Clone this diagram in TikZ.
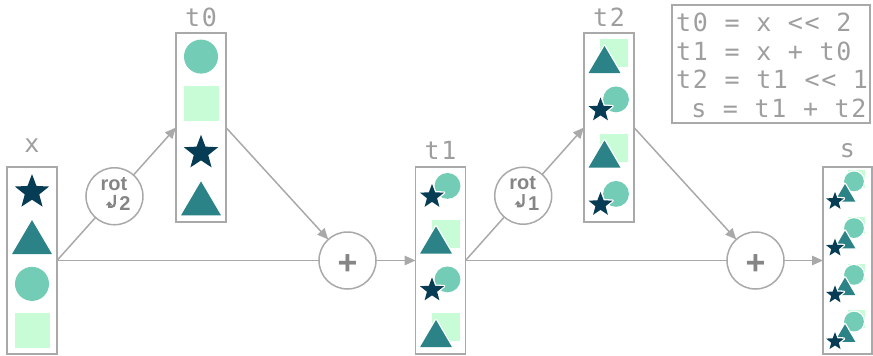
\documentclass[tikz,border=0pt]{standalone}
\usepackage{fontspec}
\usetikzlibrary{arrows.meta,calc}
\newfontfamily\codefont[LetterSpace=6.4]{DejaVu Sans Mono}
\newfontfamily\opfont{Liberation Sans}
\definecolor{inkStar}{HTML}{063D54}
\definecolor{inkTri}{HTML}{2B8388}
\definecolor{inkCirc}{HTML}{73CCB6}
\definecolor{inkSq}{HTML}{C8FCD6}
\definecolor{wire}{HTML}{A9A9A9}
\definecolor{labelgray}{HTML}{9E9E9E}
\definecolor{opgray}{HTML}{858585}
\tikzset{
  % white halo outside each shape, so overlapping values stay apart
  shapeedge/.style={preaction={draw=white, line width=2.6pt, line join=round}},
  % single lane shapes around (0,0), argument = size factor; y axis points down
  pics/stp/.style={code={
    \path[shapeedge, fill=inkStar, scale=#1, shift={(0,1.7)}]
      (270:18) -- (306:7.6) -- (342:18) -- (18:7.6) -- (54:18) -- (90:7.6)
      -- (126:18) -- (162:7.6) -- (198:18) -- (234:7.6) -- cycle;}},
  pics/stp/.default=1,
  pics/trp/.style={code={
    \path[shapeedge, fill=inkTri, scale=#1] (0,-17) -- (20,17) -- (-20,17) -- cycle;}},
  pics/trp/.default=1,
  pics/cip/.style={code={
    \path[shapeedge, fill=inkCirc, scale=#1] (0,0) circle (17);}},
  pics/cip/.default=1,
  pics/sqp/.style={code={
    \path[shapeedge, fill=inkSq, scale=#1] (-17.5,-17.5) rectangle (17.5,17.5);}},
  pics/sqp/.default=1,
  % lanes holding two or four overlapping values
  pics/laneSC/.style={code={
    \pic at (7,-4.5) {cip=0.76};
    \pic at (-8.5,5) {stp=0.7};}},
  pics/laneTQ/.style={code={
    \pic at (5,-3.5) {sqp=0.8};
    \pic at (-4.5,3) {trp=0.8};}},
  pics/laneAll/.style={code={
    \pic at (9,-11.5) {sqp=0.5};
    \pic at (6.5,-9) {cip=0.58};
    \pic at (-2.5,2.5) {trp=0.52};
    \pic at (-12.5,10) {stp=0.52};}},
  regbox/.style={draw=wire, line width=1.5pt, minimum width=50pt, inner sep=0pt, outer sep=0pt},
  lowbox/.style={regbox, minimum height=187pt},
  highbox/.style={regbox, minimum height=189pt},
  opnode/.style={circle, draw=wire, line width=1.5pt, minimum size=57pt, inner sep=0pt, outer sep=0pt},
  wireline/.style={draw=wire, line width=1.5pt},
  arrowline/.style={wireline, -{Triangle[length=11pt,width=9.5pt]}},
  regname/.style={text=labelgray, font=\codefont\fontsize{25}{28}\selectfont, inner sep=0pt, anchor=base},
  codeline/.style={text=labelgray, font=\codefont\fontsize{25}{28}\selectfont, inner sep=0pt, anchor=base west},
  rottext/.style={text=opgray, font=\opfont\bfseries\fontsize{20}{20}\selectfont, inner sep=0pt, anchor=base},
  plustext/.style={text=opgray, font=\opfont\bfseries\fontsize{34}{34}\selectfont, inner sep=0pt},
  hookline/.style={draw=opgray, line width=2.2pt, -{Triangle[length=4pt,width=6.5pt]}},
}
\begin{document}
\begin{tikzpicture}[x=1pt, y=-1pt]
\useasboundingbox (0,0) rectangle (873,356);

% registers
\node[lowbox]  (x)  at (32,260.5)    {};
\node[highbox] (t0) at (201,127.5)   {};
\node[lowbox]  (t1) at (440.5,260.5) {};
\node[highbox] (t2) at (609,127.5)   {};
\node[lowbox, minimum width=49pt] (s) at (847.5,260.5) {};

% register names
\node[regname] (xname)  at (32,152.5)  {x};
\node[regname] (t0name) at (201,26.5)  {t0};
\node[regname] (t1name) at (440.5,159) {t1};
\node[regname] (t2name) at (609,26.5)  {t2};
\node[regname] (sname)  at (847.5,157) {s};

% lane contents
\pic at (32,190.4) {stp};
\pic at (32,237.1) {trp};
\pic at (32,283.9) {cip};
\pic at (32,330.6) {sqp};

\pic at (201,56.6)  {cip};
\pic at (201,103.9) {sqp};
\pic at (201,151.1) {stp};
\pic at (201,198.4) {trp};

\pic at (440.5,190.4) {laneSC};
\pic at (440.5,237.1) {laneTQ};
\pic at (440.5,283.9) {laneSC};
\pic at (440.5,330.6) {laneTQ};

\pic at (609,56.6)  {laneTQ};
\pic at (609,103.9) {laneSC};
\pic at (609,151.1) {laneTQ};
\pic at (609,198.4) {laneSC};

\pic at (847.5,190.4) {laneAll};
\pic at (847.5,237.1) {laneAll};
\pic at (847.5,283.9) {laneAll};
\pic at (847.5,330.6) {laneAll};

% operators
\path (x.east) -- node[opnode, pos=0.483] (r1) {} (t0.west);
\path (t1.east) -- node[opnode, pos=0.487] (r2) {} (t2.west);
\node[opnode] (p1) at (347.5,260.5) {};
\node[opnode] (p2) at (755.5,260.5) {};

\node[plustext] (p1sign) at ($(p1)+(0,4)$) {+};
\node[plustext] (p2sign) at ($(p2)+(0,4)$) {+};

\node[rottext] (r1word)  at ($(r1)+(-0.5,-5.8)$) {rot};
\node[rottext] (r1count) at ($(r1)+(10.5,14.5)$) {2};
\draw[hookline] ($(r1)+(0.2,-1.5)$) -- ++(0,9) arc[start angle=0, end angle=90, radius=3]
  -- ++(-2.5,0) -- ++(0,-5.5);
\node[rottext] (r2word)  at ($(r2)+(-0.5,-5.8)$) {rot};
\node[rottext] (r2count) at ($(r2)+(10.5,14.5)$) {1};
\draw[hookline] ($(r2)+(0.2,-1.5)$) -- ++(0,9) arc[start angle=0, end angle=90, radius=3]
  -- ++(-2.5,0) -- ++(0,-5.5);

% data flow
\draw[wireline]  (x.east) -- (r1);
\draw[arrowline] (r1) -- (t0.west);
\draw[wireline]  (x.east) -- (p1);
\draw[arrowline] (t0.east) -- (p1);
\draw[arrowline] (p1) -- (t1.west);
\draw[wireline]  (t1.east) -- (r2);
\draw[arrowline] (r2) -- (t2.west);
\draw[wireline]  (t1.east) -- (p2);
\draw[arrowline] (t2.east) -- (p2);
\draw[arrowline] (p2) -- (s.west);

% program listing
\node[regbox, minimum width=198pt, minimum height=118pt] (code) at (771,64) {};
\node[codeline] (c1) at (676,31.5)  {t0 = x <{}< 2};
\node[codeline] (c2) at (676,60)    {t1 = x + t0};
\node[codeline] (c3) at (676,88.5)  {t2 = t1 <{}< 1};
\node[codeline] (c4) at (676,117)   {\hphantom{t}s = t1 + t2};
\end{tikzpicture}
\end{document}
